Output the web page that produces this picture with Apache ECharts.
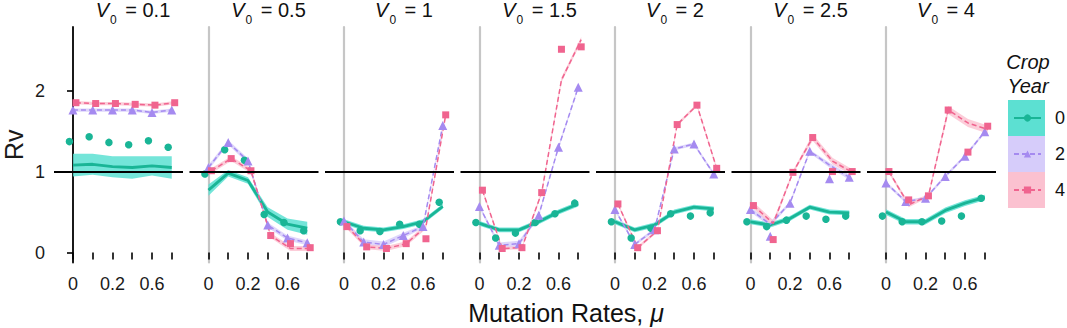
<!DOCTYPE html>
<html>
<head>
<meta charset="utf-8">
<script src="https://cdn.jsdelivr.net/npm/echarts@6/dist/echarts.min.js"></script>
<style>
  html, body { margin: 0; padding: 0; background: #fff; }
  #chart { width: 1067px; height: 328px; }
</style>
</head>
<body>
<div id="chart"></div>
<script>
// Facets: initial virus level V0; x: mutation rate categories; y: Rv
const V0_LABELS = ['0.1', '0.5', '1', '1.5', '2', '2.5', '4'];
const MU_LABELS = ['0', '0.1', '0.2', '0.4', '0.6', '0.8'];
const MU_SHOWN = [0, 2, 4];
const RV_TICKS = [0, 1, 2];
const YEARS = ['0', '2', '4'];

// Observed Rv (points), one row per V0 facet
const obsYear0 = [
  [1.37, 1.43, 1.36, 1.33, 1.38, 1.30],
  [0.97, 1.27, 1.14, 0.47, 0.37, 0.27],
  [0.38, 0.27, 0.26, 0.35, 0.35, 0.62],
  [0.37, 0.18, 0.24, 0.37, 0.48, 0.61],
  [0.38, 0.18, 0.30, 0.48, 0.45, 0.49],
  [0.38, 0.32, 0.40, 0.45, 0.41, 0.45],
  [0.45, 0.38, 0.38, 0.39, 0.45, 0.67]
];
const obsYear2 = [
  [1.76, 1.76, 1.76, 1.76, 1.73, 1.76],
  [1.05, 1.36, 1.13, 0.34, 0.18, 0.12],
  [0.39, 0.13, 0.10, 0.21, 0.32, 1.57],
  [0.57, 0.09, 0.11, 0.46, 1.30, 2.04],
  [0.53, 0.10, 0.28, 1.28, 1.34, 0.97],
  [0.53, 0.20, 0.61, 1.25, 0.91, 0.93],
  [0.86, 0.63, 0.67, 0.94, 1.19, 1.49]
];
const obsYear4 = [
  [1.85, 1.84, 1.84, 1.83, 1.82, 1.85],
  [1.01, 1.16, 1.01, 0.21, 0.11, 0.06],
  [0.32, 0.07, 0.05, 0.11, 0.17, 1.70],
  [0.77, 0.05, 0.06, 0.74, 2.51, 2.54],
  [0.60, 0.06, 0.27, 1.58, 1.82, 1.04],
  [0.58, 0.16, 0.99, 1.42, 1.00, 1.00],
  [1.00, 0.65, 0.70, 1.76, 1.24, 1.56]
];

// Model fit (lines) and half-width of its interval (ribbons)
const fitYear0 = [
  [1.08, 1.09, 1.06, 1.05, 1.07, 1.05],
  [0.77, 0.98, 0.89, 0.50, 0.35, 0.30],
  [0.38, 0.30, 0.28, 0.32, 0.38, 0.57],
  [0.36, 0.28, 0.28, 0.38, 0.50, 0.60],
  [0.38, 0.28, 0.34, 0.50, 0.56, 0.54],
  [0.38, 0.34, 0.42, 0.56, 0.50, 0.49],
  [0.50, 0.38, 0.38, 0.52, 0.61, 0.68]
];
const bandYear0 = [
  [0.14, 0.13, 0.13, 0.14, 0.12, 0.14],
  [0.07, 0.04, 0.04, 0.06, 0.07, 0.08],
  [0.03, 0.03, 0.03, 0.03, 0.03, 0.03],
  [0.03, 0.03, 0.03, 0.03, 0.03, 0.03],
  [0.03, 0.03, 0.03, 0.03, 0.03, 0.03],
  [0.03, 0.03, 0.03, 0.03, 0.03, 0.03],
  [0.035, 0.035, 0.035, 0.035, 0.035, 0.035]
];
const fitYear2 = [
  [1.76, 1.76, 1.76, 1.76, 1.73, 1.76],
  [1.05, 1.36, 1.13, 0.34, 0.18, 0.12],
  [0.39, 0.13, 0.10, 0.21, 0.32, 1.57],
  [0.57, 0.09, 0.11, 0.46, 1.30, 2.04],
  [0.53, 0.10, 0.28, 1.28, 1.34, 0.97],
  [0.53, 0.35, 0.61, 1.25, 1.08, 0.93],
  [0.86, 0.63, 0.67, 0.94, 1.19, 1.49]
];
const bandYear2 = [
  [0.02, 0.02, 0.02, 0.02, 0.02, 0.02],
  [0.03, 0.03, 0.03, 0.03, 0.03, 0.03],
  [0.02, 0.035, 0.035, 0.035, 0.02, 0.02],
  [0.02, 0.035, 0.035, 0.02, 0.02, 0.02],
  [0.02, 0.02, 0.02, 0.02, 0.02, 0.02],
  [0.03, 0.03, 0.02, 0.02, 0.03, 0.03],
  [0.02, 0.02, 0.02, 0.02, 0.02, 0.02]
];
const fitYear4 = [
  [1.85, 1.84, 1.84, 1.83, 1.82, 1.85],
  [1.01, 1.16, 1.01, 0.21, 0.05, 0.05],
  [0.32, 0.07, 0.05, 0.11, 0.32, 1.70],
  [0.77, 0.05, 0.06, 0.74, 2.13, 2.63],
  [0.60, 0.06, 0.27, 1.58, 1.82, 1.04],
  [0.58, 0.36, 0.99, 1.42, 1.13, 0.99],
  [1.00, 0.59, 0.70, 1.76, 1.60, 1.52]
];
const bandYear4 = [
  [0.02, 0.02, 0.02, 0.02, 0.02, 0.02],
  [0.03, 0.03, 0.03, 0.03, 0.03, 0.03],
  [0.03, 0.03, 0.03, 0.03, 0.03, 0.03],
  [0.02, 0.02, 0.02, 0.02, 0.03, 0.03],
  [0.02, 0.02, 0.02, 0.02, 0.02, 0.02],
  [0.04, 0.04, 0.02, 0.04, 0.04, 0.04],
  [0.02, 0.03, 0.02, 0.05, 0.05, 0.05]
];

const OBS = [obsYear0, obsYear2, obsYear4];
const FIT = [fitYear0, fitYear2, fitYear4];
const BAND = [bandYear0, bandYear2, bandYear4];

// Styling per crop year
const LINE_COLORS = ['#19b596', '#a58af0', '#f0648f'];
const FILL_COLORS = ['#5ce0d2', '#d6ccfa', '#fbc1d0'];
const SYMBOLS = ['circle', 'triangle', 'rect'];
const SYMBOL_SIZES = [7.5, 9, 7];
const LINE_WIDTHS = [2.8, 1.5, 1.5];
const LINE_TYPES = ['solid', [5, 3], [5, 3]];
const DODGE_POINTS = [-0.18, 0, 0.15];
const DODGE_FIT = [0, 0, 0.15];

const FONT = "'Liberation Sans', Arial, Helvetica, sans-serif";
const PANEL_LEFT0 = 54, PANEL_STEP = 135.5, PANEL_W = 129, PANEL_TOP = 27, PANEL_H = 235.5;

const grids = [], xAxes = [], yAxes = [], series = [], graphics = [];

V0_LABELS.forEach((v0, p) => {
  const left = PANEL_LEFT0 + PANEL_STEP * p;
  grids.push({ left: left, top: PANEL_TOP, width: PANEL_W, height: PANEL_H, containLabel: false });
  xAxes.push({
    type: 'value', gridIndex: p, min: -0.96, max: 5.57,
    axisLine: { show: false },
    splitLine: { show: false },
    axisTick: { show: true, length: 7, customValues: MU_LABELS.map((_, i) => i),
      lineStyle: { color: '#000', width: 1.6 } },
    axisLabel: { show: true, customValues: MU_SHOWN, margin: 12,
      formatter: val => MU_LABELS[Math.round(val)],
      fontFamily: FONT, fontSize: 18, color: '#1a1a1a' }
  });
  const first = p === 0;
  yAxes.push({
    type: 'value', gridIndex: p, min: -0.123, max: 2.785,
    name: first ? 'Rv' : '', nameLocation: 'middle', nameRotate: 90, nameGap: 28,
    nameTextStyle: { fontFamily: FONT, fontSize: 25, color: '#1a1a1a' },
    axisLine: { show: true, lineStyle: { color: first ? '#000' : '#c6c6c6', width: first ? 1.8 : 2.2 } },
    splitLine: { show: false },
    axisTick: { show: first, length: 6, customValues: RV_TICKS, lineStyle: { color: '#000', width: 1.6 } },
    axisLabel: { show: first, customValues: RV_TICKS, margin: 9,
      fontFamily: FONT, fontSize: 18, color: '#1a1a1a' }
  });

  YEARS.forEach((yr, k) => {
    const fit = FIT[k][p], band = BAND[k][p], obs = OBS[k][p];
    const xsFit = MU_LABELS.map((_, i) => i + DODGE_FIT[k]);
    const xsPts = MU_LABELS.map((_, i) => i + DODGE_POINTS[k]);

    // interval ribbon
    series.push({
      type: 'custom', xAxisIndex: p, yAxisIndex: p, z: 1, silent: true,
      data: xsFit.map((x, i) => [x, fit[i] - band[i], fit[i] + band[i]]),
      encode: { x: 0, y: [1, 2] },
      renderItem: (params, api) => {
        if (params.dataIndex !== 0) return null;
        const upper = xsFit.map((x, i) => api.coord([x, fit[i] + band[i]]));
        const lower = xsFit.map((x, i) => api.coord([x, fit[i] - band[i]])).reverse();
        return {
          type: 'polygon',
          shape: { points: upper.concat(lower) },
          style: { fill: FILL_COLORS[k], opacity: k === 0 ? 0.85 : 0.8 }
        };
      }
    });

    // fitted line
    const lineSeries = {
      name: yr, type: 'line', xAxisIndex: p, yAxisIndex: p, z: 3,
      data: xsFit.map((x, i) => [x, fit[i]]),
      symbol: SYMBOLS[k], symbolSize: SYMBOL_SIZES[k], showSymbol: false,
      itemStyle: { color: LINE_COLORS[k] },
      lineStyle: { color: LINE_COLORS[k], width: LINE_WIDTHS[k], type: LINE_TYPES[k] },
      emphasis: { disabled: true }, silent: true
    };
    if (k === 0) {
      lineSeries.markLine = {
        silent: true, symbol: 'none', label: { show: false },
        lineStyle: { color: '#000', width: 1.8, type: 'solid' },
        emphasis: { disabled: true },
        data: [{ yAxis: 1 }]
      };
    }
    series.push(lineSeries);

    // observed points
    series.push({
      type: 'scatter', xAxisIndex: p, yAxisIndex: p, z: 4, silent: true,
      data: xsPts.map((x, i) => [x, obs[i]]),
      symbol: SYMBOLS[k], symbolSize: SYMBOL_SIZES[k],
      itemStyle: { color: LINE_COLORS[k], opacity: 1 }
    });
  });

  // facet title
  graphics.push({
    type: 'text', x: left + 79, y: 0, z: 10,
    style: {
      text: '{v|V}{s|0}{t| = ' + v0 + '}',
      align: 'center', textAlign: 'center', verticalAlign: 'top', textVerticalAlign: 'top',
      rich: {
        v: { fontFamily: FONT, fontSize: 20, fontStyle: 'italic', lineHeight: 23, verticalAlign: 'top', fill: '#111' },
        s: { fontFamily: FONT, fontSize: 12, lineHeight: 12, padding: [14, 3, 0, 1], verticalAlign: 'top', fill: '#111' },
        t: { fontFamily: FONT, fontSize: 20, lineHeight: 23, verticalAlign: 'top', fill: '#111' }
      }
    }
  });
});

// legend key backgrounds
YEARS.forEach((yr, k) => {
  graphics.push({
    type: 'rect', shape: { x: 1008, y: 100 + 36 * k, width: 37, height: 36 },
    style: { fill: FILL_COLORS[k] }, z: 0, silent: true
  });
});
// legend title
graphics.push({
  type: 'text', x: 1028, y: 50, z: 10,
  style: {
    text: 'Crop\nYear', align: 'center', textAlign: 'center', verticalAlign: 'top', textVerticalAlign: 'top',
    fontFamily: FONT, fontSize: 20, fontStyle: 'italic', lineHeight: 24, fill: '#111'
  }
});
// x-axis title
graphics.push({
  type: 'text', x: 566, y: 313, z: 10,
  style: {
    text: '{a|Mutation Rates, }{m|μ}',
    align: 'center', textAlign: 'center', verticalAlign: 'middle', textVerticalAlign: 'middle',
    rich: {
      a: { fontFamily: FONT, fontSize: 25, fill: '#111' },
      m: { fontFamily: FONT, fontSize: 25, fontStyle: 'italic', fill: '#111' }
    }
  }
});

const chart = echarts.init(document.getElementById('chart'), null, { renderer: 'svg' });
chart.setOption({
  animation: false,
  backgroundColor: '#fff',
  grid: grids,
  xAxis: xAxes,
  yAxis: yAxes,
  series: series,
  legend: {
    data: YEARS, orient: 'vertical', left: 1013, top: 100,
    itemWidth: 27, itemHeight: 9, itemGap: 0, padding: 0,
    selectedMode: false,
    textStyle: { fontFamily: FONT, fontSize: 18, color: '#111', lineHeight: 36, padding: [0, 0, 0, 9] }
  },
  graphic: graphics
});
</script>
</body>
</html>
